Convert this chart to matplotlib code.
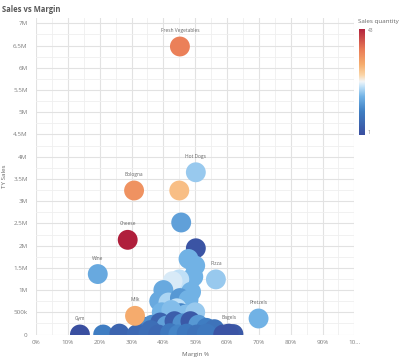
import numpy as np
import matplotlib
matplotlib.use("Agg")
import matplotlib.pyplot as plt
from matplotlib.colors import LinearSegmentedColormap, Normalize
from matplotlib.ticker import MultipleLocator, FuncFormatter

plt.rcParams['font.family'] = ['Open Sans', 'DejaVu Sans']

# margin %, TY sales, sales quantity
names = ["Fresh Vegetables", "Hot Dogs", "Bologna", "Cheese", "Wine", "Pizza",
         "Pretzels", "Milk", "Gym", "Bagels"]
named_margin = [45.2, 50.2, 30.8, 28.8, 19.4, 56.5, 69.9, 31.1, 13.8, 60.5]
named_sales = [6.48e6, 3.65e6, 3.24e6, 2.13e6, 1.36e6, 1.24e6, 0.36e6, 0.42e6, 0.0, 0.02e6]
named_qty = [34, 18, 32, 43, 15, 18, 16, 29, 1, 2]

other_margin = [45.0, 45.6, 50.2, 47.9, 50.0, 49.4, 45.0, 42.9, 48.7, 40.0,
                38.7, 41.6, 45.2, 47.9, 44.2, 45.5, 41.6, 39.5, 42.5, 47.0,
                50.0, 33.5, 36.5, 39.0, 41.0, 43.5, 46.0, 48.5, 51.0, 53.5,
                56.0, 36.0, 21.1, 26.2, 31.6, 35.3, 38.4, 42.1, 44.7, 47.3,
                50.5, 53.6, 58.8, 62.0]
other_sales = [3.24e6, 2.52e6, 1.94e6, 1.70e6, 1.55e6, 1.30e6, 1.24e6, 1.20e6, 0.96e6, 1.00e6,
               0.75e6, 0.72e6, 0.82e6, 0.78e6, 0.59e6, 0.48e6, 0.39e6, 0.50e6, 0.55e6, 0.45e6,
               0.50e6, 0.18e6, 0.22e6, 0.27e6, 0.20e6, 0.30e6, 0.25e6, 0.30e6, 0.22e6, 0.15e6,
               0.12e6, 0.10e6, 0.0, 0.02e6, 0.0, 0.02e6, 0.0, 0.03e6, 0.0, 0.02e6,
               0.0, 0.02e6, 0.0, 0.01e6]
other_qty = [27, 14, 2, 16, 16, 16, 20, 21, 16, 15,
             15, 19, 13, 16, 20, 11, 24, 16, 17, 17,
             18, 8, 12, 5, 14, 4, 12, 3, 13, 10,
             8, 7, 10, 5, 6, 7, 6, 9, 11, 9,
             8, 9, 2, 3]

cmap = LinearSegmentedColormap.from_list("qlik_div", [
    (0.0, "#3a4fa0"), (0.22, "#3f7fc3"), (0.36, "#72b3e6"), (0.45, "#bfe0f7"),
    (0.5, "#f2f5f8"), (0.56, "#fbd6a8"), (0.66, "#f6ad6e"), (0.8, "#ea7c57"),
    (1.0, "#b01f3c")])
norm = Normalize(1, 43)

fig = plt.figure(figsize=(4.0, 3.61), dpi=100)
ax = fig.add_axes([0.09, 0.0734, 0.796, 0.8766])

ax.scatter(other_margin, other_sales, s=205, c=other_qty, cmap=cmap, norm=norm,
           linewidths=0, zorder=3)
ax.scatter(named_margin, named_sales, s=205, c=named_qty, cmap=cmap, norm=norm,
           linewidths=0, zorder=3)

for n, x, y in zip(names, named_margin, named_sales):
    ax.annotate(n, (x, y), xytext=(0, 11.5), textcoords='offset points',
                ha='center', va='center', fontsize=3.5, color='#666666', zorder=4)

ax.set_xlim(0, 100)
ax.set_ylim(0, 7.12e6)
ax.xaxis.set_major_locator(MultipleLocator(10))
ax.xaxis.set_minor_locator(MultipleLocator(5))
ax.yaxis.set_major_locator(MultipleLocator(0.5e6))
ax.yaxis.set_minor_locator(MultipleLocator(0.25e6))


def fmt_y(v, pos):
    if v == 0:
        return "0"
    if v < 1e6:
        return f"{v / 1e3:g}k"
    return f"{v / 1e6:g}M"


def fmt_x(v, pos):
    if v >= 100:
        return "10..."
    return f"{v:g}%"


ax.yaxis.set_major_formatter(FuncFormatter(fmt_y))
ax.xaxis.set_major_formatter(FuncFormatter(fmt_x))
ax.grid(which='major', color='#e2e2e2', linewidth=0.8, zorder=0)
ax.grid(which='minor', color='#efefef', linewidth=0.6, zorder=0)
ax.set_axisbelow(True)
for s in ax.spines.values():
    s.set_visible(False)
ax.tick_params(which='both', length=0, labelsize=4.5, labelcolor='#7f7f7f')
ax.tick_params(axis='x', pad=4)
ax.tick_params(axis='y', pad=6)
ax.set_xlabel("Margin %", fontsize=4.5, color='#666666', labelpad=5)
ax.set_ylabel("TY Sales", fontsize=4.5, color='#666666', labelpad=4)

fig.text(0.005, 0.985, "Sales vs Margin", fontsize=5.5, fontweight='bold',
         color='#595959', ha='left', va='top')

# color legend
cax = fig.add_axes([0.8975, 1 - 135 / 361, 0.015, 106 / 361])
grad = np.linspace(0, 1, 256).reshape(-1, 1)
cax.imshow(grad, aspect='auto', cmap=cmap, origin='lower')
cax.set_xticks([])
cax.set_yticks([])
for s in cax.spines.values():
    s.set_visible(False)
fig.text(0.895, 1 - 21 / 361, "Sales quantity", fontsize=4.5, color='#666666',
         ha='left', va='center')
fig.text(0.92, 1 - 31 / 361, "43", fontsize=3.5, color='#808080', ha='left', va='center')
fig.text(0.92, 1 - 133 / 361, "1", fontsize=3.5, color='#808080', ha='left', va='center')

fig.savefig("out.png", dpi=100)
